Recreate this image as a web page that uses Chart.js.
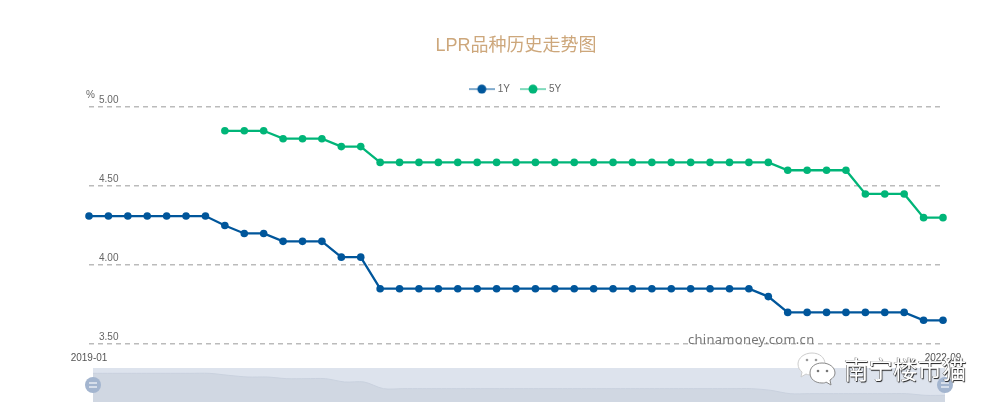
<!DOCTYPE html>
<html>
<head>
<meta charset="utf-8">
<title>LPR品种历史走势图</title>
<script src="https://cdn.jsdelivr.net/npm/chart.js@4"></script>
<style>
  html, body { margin: 0; padding: 0; background: #fff; overflow: hidden; }
  #wrap { position: relative; width: 1000px; height: 414px; }
  #wrap canvas { position: absolute; left: 0; top: 0; }
  .source { position: absolute; left: 688px; top: 330px; font: 13px "Noto Sans", sans-serif; letter-spacing: 0.28px; color: #777; line-height: 18px; }
  .mark { position: absolute; left: 844px; top: 354px; font: 24.5px "Noto Sans CJK SC", sans-serif; color: #fff; line-height: 30px; text-shadow: 0.8px 0.8px 0.8px #222, -0.5px 0 0.6px #555; white-space: nowrap; }
  .wechat { position: absolute; left: 795px; top: 351px; }
</style>
</head>
<body>
<div id="wrap">
  <canvas id="chartLpr" width="1000" height="414"></canvas>
  <canvas id="chartSlider" width="1000" height="414"></canvas>
  <div class="source">chinamoney.com.cn</div>
  <svg class="wechat" width="42" height="36" viewBox="0 0 42 36">
    <path d="M17 2C9 2 3 7 3 13c0 4 2 6 4 8l-1 5 5-3c2 1 4 1 6 1 8 0 13-5 13-11S25 2 17 2z" fill="#fff" stroke="#ccc"/>
    <path d="M27 12c-7 0-12 4-12 10s5 10 12 10c2 0 3 0 4 -1l5 3-1-5c3-2 5-4 5-7 0-6-6-10-13-10z" fill="#fff" stroke="#888"/>
    <circle cx="12" cy="9" r="1.3" fill="#999"/><circle cx="21" cy="9" r="1.3" fill="#999"/>
    <circle cx="23" cy="20" r="1.3" fill="#777"/><circle cx="32" cy="20" r="1.3" fill="#777"/>
  </svg>
  <div class="mark">南宁楼市猫</div>
</div>
<script>
const months = [
  '2019-01','2019-02','2019-03','2019-04','2019-05','2019-06','2019-07','2019-08','2019-09','2019-10','2019-11','2019-12',
  '2020-01','2020-02','2020-03','2020-04','2020-05','2020-06','2020-07','2020-08','2020-09','2020-10','2020-11','2020-12',
  '2021-01','2021-02','2021-03','2021-04','2021-05','2021-06','2021-07','2021-08','2021-09','2021-10','2021-11','2021-12',
  '2022-01','2022-02','2022-03','2022-04','2022-05','2022-06','2022-07','2022-08','2022-09'
]
const lpr1Y = [
  4.31,4.31,4.31,4.31,4.31,4.31,4.31,4.25,4.20,4.20,4.15,4.15,
  4.15,4.05,4.05,3.85,3.85,3.85,3.85,3.85,3.85,3.85,3.85,3.85,
  3.85,3.85,3.85,3.85,3.85,3.85,3.85,3.85,3.85,3.85,3.85,3.80,
  3.70,3.70,3.70,3.70,3.70,3.70,3.70,3.65,3.65
]
const lpr5Y = [
  null,null,null,null,null,null,null,4.85,4.85,4.85,4.80,4.80,
  4.80,4.75,4.75,4.65,4.65,4.65,4.65,4.65,4.65,4.65,4.65,4.65,
  4.65,4.65,4.65,4.65,4.65,4.65,4.65,4.65,4.65,4.65,4.65,4.65,
  4.60,4.60,4.60,4.60,4.45,4.45,4.45,4.30,4.30
]
const yTicks = [3.5, 4, 4.5, 5]

const blue = '#00569b'
const green = '#00b578'
const fontFamily = '"Liberation Sans", "Noto Sans CJK SC", sans-serif'

// legend icon is a short line with a dot on it, like the original
function legendIcon(color) {
  const c = document.createElement('canvas')
  c.width = 26
  c.height = 10
  const ctx = c.getContext('2d')
  ctx.strokeStyle = color
  ctx.lineWidth = 1
  ctx.beginPath()
  ctx.moveTo(0, 5)
  ctx.lineTo(26, 5)
  ctx.stroke()
  ctx.fillStyle = color
  ctx.beginPath()
  ctx.arc(13, 5, 4.5, 0, Math.PI * 2)
  ctx.fill()
  return c
}

const unitLabel = {
  id: 'unitLabel',
  afterDraw(chart) {
    const ctx = chart.ctx
    ctx.save()
    ctx.font = '10px ' + fontFamily
    ctx.fillStyle = '#666'
    ctx.textAlign = 'left'
    ctx.textBaseline = 'middle'
    ctx.fillText('%', 86, 95)
    ctx.restore()
  }
}

new Chart(document.getElementById('chartLpr'), {
  type: 'line',
  data: {
    labels: months,
    datasets: [
      { label: '1Y', data: lpr1Y, borderColor: blue, backgroundColor: blue },
      { label: '5Y', data: lpr5Y, borderColor: green, backgroundColor: green }
    ]
  },
  options: {
    responsive: false,
    animation: false,
    clip: false,
    layout: { padding: { left: 89, right: 57, top: 0, bottom: 50 } },
    elements: {
      line: { borderWidth: 2.3, tension: 0 },
      point: { radius: 3.8, borderWidth: 0 }
    },
    plugins: {
      title: {
        display: true,
        text: 'LPR品种历史走势图',
        color: '#cda77b',
        font: { size: 18, weight: 'normal', family: fontFamily },
        padding: { top: 35, bottom: 15.5 }
      },
      // empty subtitle below the legend, just a small gap above the plot
      subtitle: {
        display: true,
        text: '',
        weight: 500,
        font: { size: 2.5 },
        padding: 0
      },
      legend: {
        display: true,
        labels: {
          color: '#666',
          font: { size: 10, family: fontFamily },
          usePointStyle: true,
          pointStyleWidth: 22,
          padding: 12,
          generateLabels(chart) {
            const items = Chart.defaults.plugins.legend.labels.generateLabels(chart)
            items.forEach(function (item, i) {
              item.pointStyle = legendIcon(chart.data.datasets[i].borderColor)
            })
            return items
          }
        }
      },
      tooltip: { enabled: false }
    },
    scales: {
      x: {
        grid: { display: false },
        border: { display: false },
        ticks: {
          autoSkip: false,
          maxRotation: 0,
          padding: 0,
          color: '#555',
          font: { size: 10, family: fontFamily },
          callback(value, index) {
            return index === 0 || index === months.length - 1 ? months[index] : ''
          }
        }
      },
      y: {
        min: yTicks[0],
        max: yTicks[yTicks.length - 1],
        border: { display: false, dash: [5, 4] },
        afterFit(scale) {
          // labels sit inside the plot, so the axis needs no width
          scale.width = 0
        },
        grid: {
          drawTicks: false,
          color: '#bbb',
          lineWidth: 1.5
        },
        ticks: {
          mirror: true,
          padding: 10,
          labelOffset: -7,
          stepSize: 0.5,
          color: '#666',
          font: { size: 10, family: fontFamily },
          callback(value) {
            return value.toFixed(2)
          }
        }
      }
    }
  },
  plugins: [unitLabel]
})

// the zoom slider under the plot
const sliderBack = {
  id: 'sliderBack',
  beforeDatasetsDraw(chart) {
    const a = chart.chartArea
    chart.ctx.save()
    chart.ctx.fillStyle = '#dde3ed'
    chart.ctx.fillRect(a.left, a.top, a.right - a.left, a.bottom - a.top)
    chart.ctx.restore()
  },
  afterDatasetsDraw(chart) {
    const ctx = chart.ctx
    const a = chart.chartArea
    const cy = (a.top + a.bottom) / 2
    ;[a.left, a.right].forEach(function (x) {
      ctx.save()
      ctx.fillStyle = '#a3b5cf'
      ctx.beginPath()
      ctx.arc(x, cy, 8, 0, Math.PI * 2)
      ctx.fill()
      ctx.strokeStyle = '#e8ecf3'
      ctx.lineWidth = 1.5
      ctx.beginPath()
      ctx.moveTo(x - 4, cy - 2)
      ctx.lineTo(x + 4, cy - 2)
      ctx.moveTo(x - 4, cy + 2)
      ctx.lineTo(x + 4, cy + 2)
      ctx.stroke()
      ctx.restore()
    })
  }
}

new Chart(document.getElementById('chartSlider'), {
  type: 'line',
  data: {
    labels: months,
    datasets: [{
      data: lpr1Y,
      borderColor: '#c9d1de',
      borderWidth: 1,
      backgroundColor: '#d0d7e2',
      fill: 'start',
      pointRadius: 0,
      tension: 0.3
    }]
  },
  options: {
    responsive: false,
    animation: false,
    layout: { padding: { left: 93, right: 55, top: 368, bottom: 12 } },
    plugins: { legend: { display: false }, title: { display: false }, tooltip: { enabled: false } },
    scales: {
      x: { display: false },
      y: { display: false, min: 3.45, max: 4.47 }
    }
  },
  plugins: [sliderBack]
})
</script>
</body>
</html>
